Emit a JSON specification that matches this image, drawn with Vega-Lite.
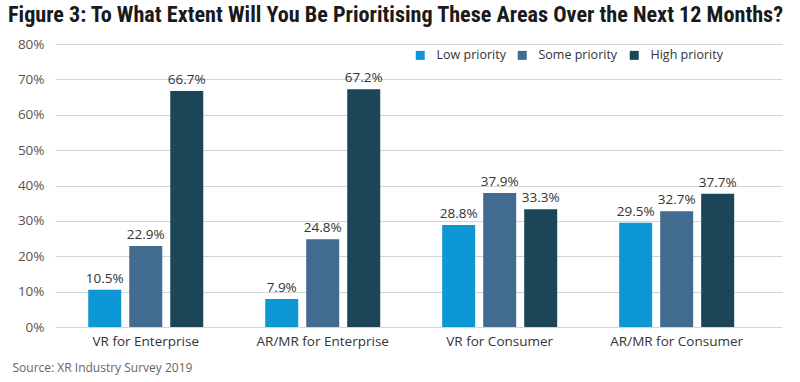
{
  "$schema": "https://vega.github.io/schema/vega-lite/v6.json",
  "width": 727,
  "height": 283,
  "autosize": {"type": "none"},
  "padding": {"left": 55, "top": 44, "right": 18, "bottom": 55},
  "background": "white",
  "title": {
    "text": "Figure 3: To What Extent Will You Be Prioritising These Areas Over the Next 12 Months?",
    "anchor": "start",
    "frame": "group",
    "dx": -47,
    "offset": 11,
    "font": "Liberation Sans Narrow, Roboto Condensed, Roboto",
    "fontSize": 22.2,
    "fontWeight": "bold",
    "color": "#1a1a1a"
  },
  "config": {
    "view": {"stroke": null},
    "font": "Open Sans"
  },
  "data": {
    "values": [
      {"area": "VR for Enterprise", "priority": "Low priority", "value": 0.105},
      {"area": "VR for Enterprise", "priority": "Some priority", "value": 0.229},
      {"area": "VR for Enterprise", "priority": "High priority", "value": 0.667},
      {"area": "AR/MR for Enterprise", "priority": "Low priority", "value": 0.079},
      {"area": "AR/MR for Enterprise", "priority": "Some priority", "value": 0.248},
      {"area": "AR/MR for Enterprise", "priority": "High priority", "value": 0.672},
      {"area": "VR for Consumer", "priority": "Low priority", "value": 0.288},
      {"area": "VR for Consumer", "priority": "Some priority", "value": 0.379},
      {"area": "VR for Consumer", "priority": "High priority", "value": 0.333},
      {"area": "AR/MR for Consumer", "priority": "Low priority", "value": 0.295},
      {"area": "AR/MR for Consumer", "priority": "Some priority", "value": 0.327},
      {"area": "AR/MR for Consumer", "priority": "High priority", "value": 0.377}
    ]
  },
  "encoding": {
    "x": {
      "field": "area",
      "type": "nominal",
      "sort": ["VR for Enterprise", "AR/MR for Enterprise", "VR for Consumer", "AR/MR for Consumer"],
      "scale": {"paddingInner": 0.35, "paddingOuter": 0.229, "align": 0.41},
      "axis": {
        "title": "Source: XR Industry Survey 2019",
        "titleX": -43,
        "titleY": 44,
        "titleAlign": "left",
        "titleBaseline": "alphabetic",
        "titleFontWeight": "normal",
        "titleFontSize": 12,
        "titleColor": "#666666",
        "titleFont": "Open Sans",
        "labelAngle": 0,
        "labelFontSize": 13.5,
        "labelColor": "#333333",
        "labelPadding": 7,
        "domain": false,
        "ticks": false
      }
    },
    "xOffset": {
      "field": "priority",
      "type": "nominal",
      "sort": ["Low priority", "Some priority", "High priority"],
      "scale": {"paddingInner": 0.195, "paddingOuter": 0}
    },
    "y": {
      "field": "value",
      "type": "quantitative",
      "scale": {"domain": [0, 0.8]},
      "axis": {
        "title": null,
        "format": ".0%",
        "values": [0, 0.1, 0.2, 0.3, 0.4, 0.5, 0.6, 0.7, 0.8],
        "labelOverlap": false,
        "domain": false,
        "ticks": false,
        "labelPadding": 11,
        "labelFontSize": 13.5,
        "labelColor": "#555555",
        "gridColor": "#d4d4d4",
        "gridWidth": 1
      }
    }
  },
  "layer": [
    {
      "mark": {"type": "bar"},
      "encoding": {
        "color": {
          "field": "priority",
          "type": "nominal",
          "sort": ["Low priority", "Some priority", "High priority"],
          "scale": {
            "domain": ["Low priority", "Some priority", "High priority"],
            "range": ["#0d97d5", "#426b90", "#1c4557"]
          },
          "legend": {
            "title": null,
            "orient": "none",
            "direction": "horizontal",
            "legendX": 359,
            "legendY": 5,
            "padding": 0,
            "symbolType": "square",
            "symbolSize": 81,
            "symbolStrokeWidth": 0,
            "labelOffset": 10,
            "columnPadding": 10,
            "labelFontSize": 12.5,
            "labelColor": "#333333"
          }
        }
      }
    },
    {
      "mark": {"type": "text", "baseline": "alphabetic", "dy": -7, "fontSize": 13.5, "color": "#333333"},
      "encoding": {
        "text": {"field": "value", "type": "quantitative", "format": ".1%"}
      }
    }
  ]
}
